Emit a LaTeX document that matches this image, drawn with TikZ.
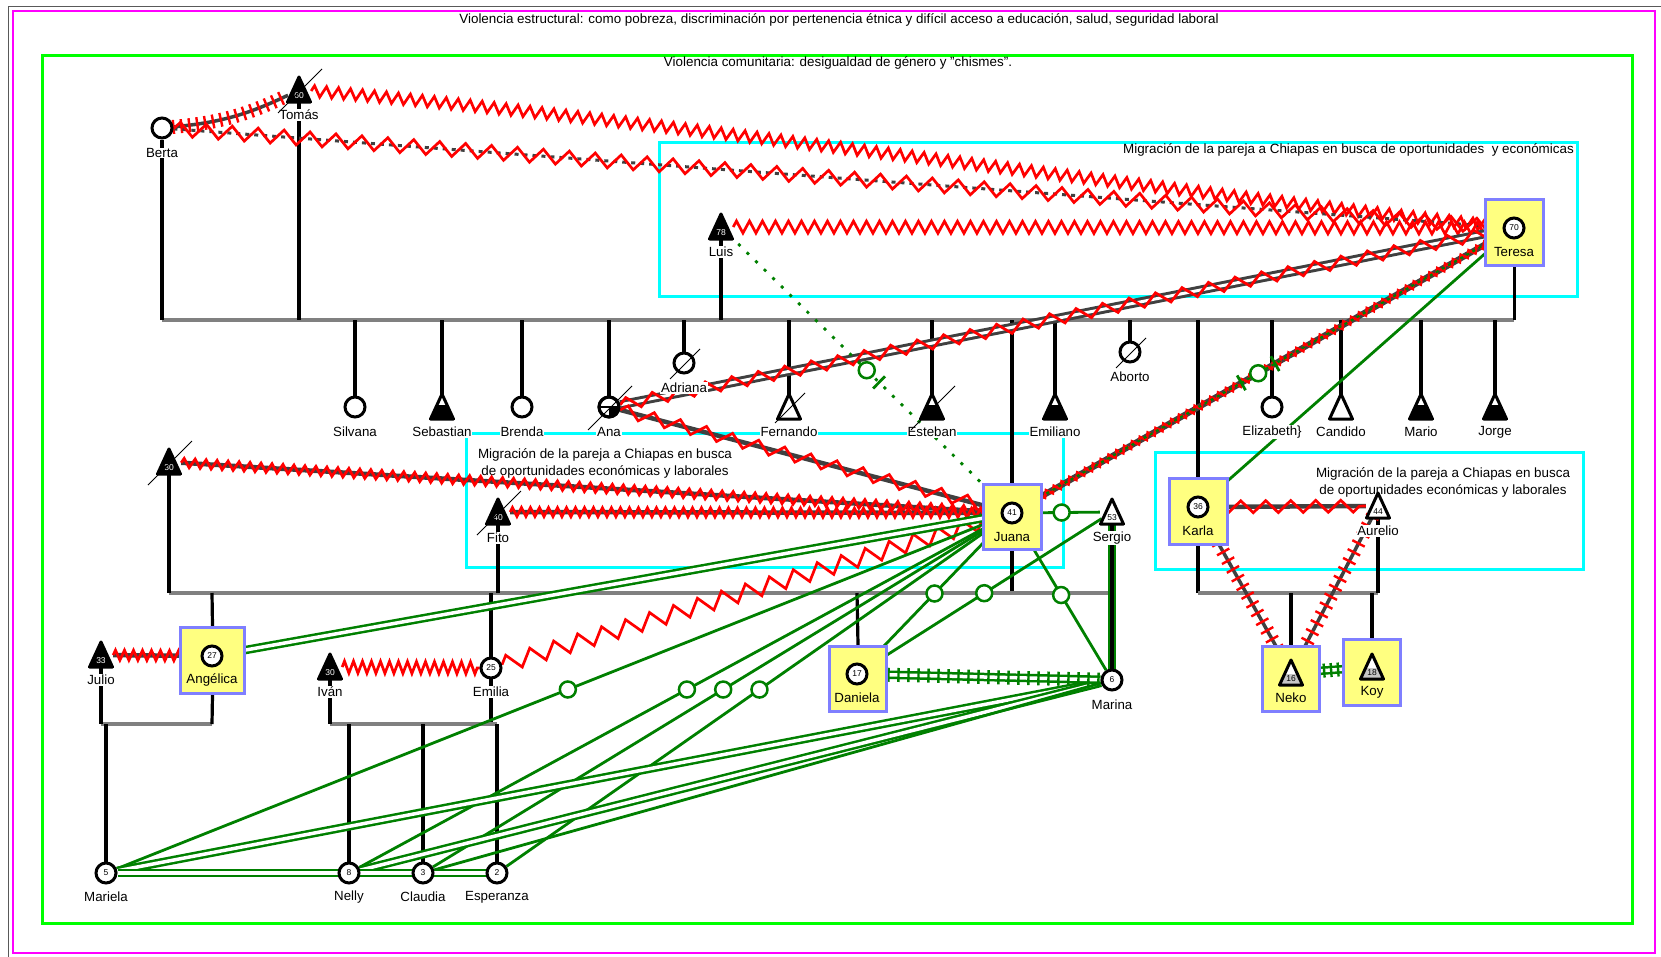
\documentclass[tikz,border=0pt]{standalone}
\usepackage{fontspec}
\setmainfont{Liberation Sans}
\usetikzlibrary{decorations.pathmorphing,decorations.pathreplacing,calc}
\pgfdeclarelayer{frames}
\pgfdeclarelayer{links}
\pgfsetlayers{frames,links,main}
\definecolor{rel}{HTML}{008000}
\definecolor{dgray}{HTML}{404040}
\definecolor{lgray}{HTML}{808080}
\definecolor{framemag}{HTML}{FF00FF}
\definecolor{framegreen}{HTML}{00FF00}
\definecolor{framecyan}{HTML}{00FFFF}
\definecolor{hlfill}{HTML}{FFFF80}
\definecolor{hlborder}{HTML}{7F7FFF}
\tikzset{
  txt/.style={font=\fontsize{13.4}{17}\selectfont, inner sep=1pt},
  lbl/.style={font=\fontsize{13.3}{14}\selectfont, fill=white, inner sep=0.8pt},
  lblin/.style={font=\fontsize{13.3}{14}\selectfont, inner sep=0.8pt},
  fem/.style={circle, draw=black, line width=3pt, fill=white, minimum size=20pt, inner sep=0pt, font=\fontsize{8.5}{9}\selectfont},
  anchorpt/.style={circle, minimum size=24pt, inner sep=0pt},
  numw/.style={font=\fontsize{8.5}{9}\selectfont, text=white, inner sep=0pt},
  numb/.style={font=\fontsize{8.5}{9}\selectfont, inner sep=0pt},
  hlbox/.style={draw=hlborder, fill=hlfill, line width=2.8pt, inner sep=0pt},
  kin/.style={black, line width=3.2pt},
  sib/.style={lgray, line width=3.2pt},
  zz/.style 2 args={red, line width=2.7pt, decorate, decoration={zigzag, segment length=#1, amplitude=#2}},
  hatchred/.style={red, line width=2.4pt, decorate, decoration={ticks, segment length=#1, amplitude=7pt}},
  hatchgreen/.style={rel, line width=2.4pt, decorate, decoration={ticks, segment length=#1, amplitude=7pt}},
  bondline/.style={dgray, line width=#1},
  grel/.style={rel, line width=2.8pt},
  dbl/.style={rel, line width=2.5pt, double=white, double distance=3.5pt},
  gmark/.style={circle, draw=rel, line width=2.5pt, fill=white, minimum size=16pt, inner sep=0pt},
  gbar/.style={sloped, fill=rel, minimum width=2.8pt, minimum height=17pt, inner sep=0pt},
  triw/.pic={\draw[line width=3pt, line join=round, fill=white] (0,-13)--(11.5,12)--(-11.5,12)--cycle;},
  trib/.pic={\draw[line width=3pt, line join=round, fill=black] (0,-13)--(11.5,12)--(-11.5,12)--cycle;},
  trih/.pic={\fill[white] (0,-13)--(11.5,12)--(-11.5,12)--cycle;
             \fill[black] (-11.5,12)--(11.5,12)--(5,-2)--(-5,-2)--cycle;
             \draw[line width=3pt, line join=round] (0,-13)--(11.5,12)--(-11.5,12)--cycle;},
  trig/.pic={\fill[white] (0,-13)--(11.5,12)--(-11.5,12)--cycle;
             \fill[gray!45] (-11.5,12)--(11.5,12)--(6.4,1)--(-6.4,1)--cycle;
             \draw[line width=3pt, line join=round] (0,-13)--(11.5,12)--(-11.5,12)--cycle;},
  dead/.pic={\draw[line width=1pt] (-21,23)--(23,-21);},
  deadsm/.pic={\draw[line width=1pt] (-14,16)--(16,-14);},
}
\begin{document}
\begin{tikzpicture}[x=1pt,y=-1pt]
\useasboundingbox (0,0) rectangle (1661,956);

% ---------- frames and context notes
\begin{pgfonlayer}{frames}
\draw[gray!70!black, line width=0.8pt] (8,990) -- (8,6) -- (1700,6);
\draw[framemag, line width=2.5pt] (13,11) rectangle (1655,953);
\draw[framegreen, line width=3pt] (42,55) rectangle (1632,923);
\draw[framecyan, line width=3pt] (659,142) rectangle (1577,296);
\draw[framecyan, line width=3pt] (466,433) rectangle (1063,567);
\draw[framecyan, line width=3pt] (1155,452) rectangle (1583,569);
\node[txt] (t-estructural) at (839,20) {Violencia estructural: como pobreza, discriminación por pertenencia étnica y difícil acceso a educación, salud, seguridad laboral};
\node[txt] (t-comunitaria) at (838,63) {Violencia comunitaria: desigualdad de género y "chismes".};
\node[txt, anchor=east] (t-mig1) at (1575,150) {Migración de la pareja a Chiapas en busca de oportunidades\ \ y económicas};
\node[txt, align=center] (t-mig2) at (605,463) {Migración de la pareja a Chiapas en busca\\de oportunidades económicas y laborales};
\node[txt, align=center] (t-mig3) at (1443,482) {Migración de la pareja a Chiapas en busca\\de oportunidades económicas y laborales};
\end{pgfonlayer}

% ---------- generation 1
\node[fem] (berta) at (162,128) {};
\node[lbl] (berta-l) at (162,153) {Berta};
\node[anchorpt] (tomas) at (299,90) {};
\pic at (tomas) {trib};
\node[numw] (tomas-n) at (299,96) {60};
\node[lbl] (tomas-l) at (299,115) {Tomás};
\pic at (tomas) {dead};
\node[anchorpt] (luis) at (721,227) {};
\pic at (luis) {trib};
\node[numw] (luis-n) at (721,233) {78};
\node[lbl] (luis-l) at (721,252) {Luis};
\node[hlbox, minimum width=58.5pt, minimum height=66.5pt] (teresa-box) at (1514.5,232.5) {};
\node[fem] (teresa) at (1514,228) {70};
\node[lblin] (teresa-l) at (1514,252) {Teresa};

% ---------- generation 2
\node[fem] (silvana) at (355,407) {};
\node[lbl] (silvana-l) at (355,432) {Silvana};
\node[anchorpt] (sebastian) at (442,407) {};
\pic at (sebastian) {trih};
\node[lbl] (sebastian-l) at (442,432) {Sebastian};
\node[fem] (brenda) at (522,407) {};
\node[lbl] (brenda-l) at (522,432) {Brenda};
\node[fem] (ana) at (609,407) {};
\fill (609,407) -- ++(10,0) arc (0:90:10) -- cycle;
\draw[line width=1.2pt] (599,407) -- (619,407);
\draw[line width=3pt] (ana) circle (10);
\node[lbl] (ana-l) at (609,432) {Ana};
\pic at (ana) {dead};
\node[fem] (adriana) at (684,363) {};
\node[lbl] (adriana-l) at (684,388) {Adriana};
\pic at (adriana) {deadsm};
\node[anchorpt] (fernando) at (789,407) {};
\pic at (fernando) {triw};
\node[lbl] (fernando-l) at (789,432) {Fernando};
\pic at (fernando) {deadsm};
\node[anchorpt] (esteban) at (932,407) {};
\pic at (esteban) {trih};
\node[lbl] (esteban-l) at (932,432) {Esteban};
\pic at (esteban) {dead};
\node[hlbox, minimum width=58.5pt, minimum height=65.5pt] (juana-box) at (1012.5,517) {};
\node[fem] (juana) at (1012,513) {41};
\node[lblin] (juana-l) at (1012,537) {Juana};
\node[anchorpt] (emiliano) at (1055,407) {};
\pic at (emiliano) {trih};
\node[lbl] (emiliano-l) at (1055,432) {Emiliano};
\node[fem] (aborto) at (1130,352) {};
\node[lbl] (aborto-l) at (1130,377) {Aborto};
\pic at (aborto) {deadsm};
\node[hlbox, minimum width=58.5pt, minimum height=66.5pt] (karla-box) at (1198.5,511.5) {};
\node[fem] (karla) at (1198,507) {36};
\node[lblin] (karla-l) at (1198,531) {Karla};
\node[fem] (elizabeth) at (1272,407) {};
\node[lbl] (elizabeth-l) at (1272,432) {Elizabeth\}};
\node[anchorpt] (candido) at (1341,407) {};
\pic at (candido) {triw};
\node[lbl] (candido-l) at (1341,432) {Candido};
\node[anchorpt] (mario) at (1421,407) {};
\pic at (mario) {trih};
\node[lbl] (mario-l) at (1421,432) {Mario};
\node[anchorpt] (jorge) at (1495,407) {};
\pic at (jorge) {trih};
\node[lbl] (jorge-l) at (1495,432) {Jorge};

% ---------- generation 3
\node[anchorpt] (thirty) at (169,462) {};
\pic at (thirty) {trib};
\node[numw] (thirty-n) at (169,468) {30};
\pic at (thirty) {dead};
\node[anchorpt] (fito) at (498,512) {};
\pic at (fito) {trib};
\node[numw] (fito-n) at (498,518) {40};
\node[lbl] (fito-l) at (498,538) {Fito};
\pic at (fito) {dead};
\node[anchorpt] (sergio) at (1112,512) {};
\pic at (sergio) {triw};
\node[numb] (sergio-n) at (1112,518) {53};
\node[lbl] (sergio-l) at (1112,538) {Sergio};
\node[anchorpt] (julio) at (101,655) {};
\pic at (julio) {trib};
\node[numw] (julio-n) at (101,661) {33};
\node[lbl] (julio-l) at (101,680) {Julio};
\node[hlbox, minimum width=64pt, minimum height=66.5pt] (angelica-box) at (212.5,660.5) {};
\node[fem] (angelica) at (212,656) {27};
\node[lblin] (angelica-l) at (212,680) {Angélica};
\node[anchorpt] (ivan) at (330,667) {};
\pic at (ivan) {trib};
\node[numw] (ivan-n) at (330,673) {30};
\node[lbl] (ivan-l) at (330,692) {Iván};
\node[fem] (emilia) at (491,668) {25};
\node[lbl] (emilia-l) at (491,692) {Emilia};
\node[hlbox, minimum width=57.5pt, minimum height=65.5pt] (daniela-box) at (858,679) {};
\node[fem] (daniela) at (857,674) {17};
\node[lblin] (daniela-l) at (857,698) {Daniela};
\node[fem] (marina) at (1112,680) {6};
\node[lbl] (marina-l) at (1112,705) {Marina};
\node[anchorpt] (aurelio) at (1378,506) {};
\pic at (aurelio) {triw};
\node[numb] (aurelio-n) at (1378,512) {44};
\node[lbl] (aurelio-l) at (1378,531) {Aurelio};
\node[hlbox, minimum width=57.5pt, minimum height=65.5pt] (neko-box) at (1291,679) {};
\node[anchorpt] (neko) at (1291,673) {};
\pic at (neko) {trig};
\node[numb] (neko-n) at (1291,679) {16};
\node[lblin] (neko-l) at (1291,698) {Neko};
\node[hlbox, minimum width=57.5pt, minimum height=66.5pt] (koy-box) at (1372,672.5) {};
\node[anchorpt] (koy) at (1372,667) {};
\pic at (koy) {trig};
\node[numb] (koy-n) at (1372,673) {18};
\node[lblin] (koy-l) at (1372,692) {Koy};

% ---------- generation 4
\node[fem] (mariela) at (106,873) {5};
\node[lbl] (mariela-l) at (106,897) {Mariela};
\node[fem] (nelly) at (349,873) {8};
\node[lbl] (nelly-l) at (349,897) {Nelly};
\node[fem] (claudia) at (423,873) {3};
\node[lbl] (claudia-l) at (423,897) {Claudia};
\node[fem] (esperanza) at (497,873) {2};
\node[lbl] (esperanza-l) at (497,897) {Esperanza};

% ---------- sibship lines
\coordinate (g1l) at (162,320);  \coordinate (g1r) at (1514,320);
\coordinate (g2l) at (169,593);  \coordinate (g2r) at (1112,593);
\coordinate (g2kl) at (1198,593); \coordinate (g2kr) at (1378,593);
\coordinate (g3al) at (101,724); \coordinate (g3ar) at (212,724);
\coordinate (g3bl) at (330,724); \coordinate (g3br) at (497,724);

\begin{pgfonlayer}{links}
% kinship
\draw[sib] (g1l) -- (g1r);
\foreach \p in {berta,tomas,luis,teresa-box,silvana,sebastian,brenda,ana,adriana,fernando,esteban,emiliano,aborto,elizabeth,candido,mario,jorge}
  \draw[kin] (\p) -- (\p |- g1l);
\draw[kin] (juana |- g1l) -- (juana |- g2l);
\draw[kin] (karla |- g1l) -- (karla |- g2kl);
\draw[sib] (g2l) -- (g2r);
\draw[kin] (thirty) -- (thirty |- g2l);
\draw[kin] (fito) -- (fito |- g2l);
\draw[kin] (angelica |- g2l) -- (angelica-box.north);
\draw[kin] (emilia |- g2l) -- (emilia |- g3bl);
\draw[kin] (daniela |- g2l) -- (daniela-box.north);
\draw[sib] (g2kl) -- (g2kr);
\draw[kin] (aurelio) -- (aurelio |- g2kr);
\draw[kin] (neko |- g2kl) -- (neko-box.north);
\draw[kin] (koy |- g2kl) -- (koy-box.north);
\draw[sib] (g3al) -- (g3ar);
\draw[kin] (julio) -- (julio |- g3al);
\draw[kin] (angelica-box.south) -- (angelica |- g3al);
\draw[kin] (mariela) -- (mariela |- g3al);
\draw[sib] (g3bl) -- (g3br);
\draw[kin] (ivan) -- (ivan |- g3bl);
\draw[kin] (nelly) -- (nelly |- g3bl);
\draw[kin] (claudia) -- (claudia |- g3bl);
\draw[kin] (esperanza) -- (esperanza |- g3bl);

% violent bonds
\draw[bondline=3.5pt] (berta) to[bend right=10] (tomas);
\draw[hatchred=8pt] (berta) to[bend right=10] (tomas);
\draw[zz={12pt}{5.5pt}] (tomas) .. controls (650,118) and (1150,190) .. (teresa);
\draw[dgray, line width=3pt, dash pattern=on 4pt off 5pt] (berta) -- (teresa);
\draw[zz={26pt}{7pt}] (berta) -- (teresa);
\draw[zz={13pt}{6pt}] (luis) -- (teresa);
\draw[dgray, line width=3pt, double=white, double distance=3pt] (ana) -- (teresa);
\draw[zz={27pt}{6pt}] (ana) -- (teresa);
\draw[bondline=4.5pt] (ana) -- (juana);
\draw[zz={27pt}{6pt}] (ana) -- (juana);
\draw[bondline=4.5pt] (thirty) -- (juana);
\draw[zz={11pt}{4.5pt}] (thirty) -- (juana);
\draw[bondline=4.5pt] (fito) -- (juana);
\draw[zz={9pt}{4.5pt}] (fito) -- (juana);
\draw[bondline=6pt] (juana) -- (teresa);
\draw[zz={9pt}{3pt}] (juana) -- (teresa);
\draw[rel, line width=2.2pt, dash pattern=on 3pt off 4pt] (juana) -- (teresa);
\draw[zz={25pt}{8pt}] (emilia) -- (juana);
\draw[zz={9pt}{6pt}] (ivan) -- (emilia);
\draw[bondline=4.5pt] (julio) -- (angelica);
\draw[zz={9pt}{5pt}] (julio) -- (angelica);
\draw[bondline=4.5pt] (karla) -- (aurelio);
\draw[zz={25pt}{6pt}] (karla) -- (aurelio);
\draw[bondline=3.5pt] (karla) -- (neko);
\draw[hatchred=10pt] (karla) -- (neko);
\draw[bondline=3.5pt] (aurelio) -- (neko);
\draw[hatchred=10pt] (aurelio) -- (neko);

% close and distant bonds
\draw[rel, line width=2.8pt, dash pattern=on 3pt off 9pt] (luis) -- (juana);
\draw[dbl] (angelica) -- (juana);
\draw[grel] (mariela) -- (juana);
\draw[grel] (nelly) -- (juana);
\draw[grel] (claudia) -- (juana);
\draw[grel] (esperanza) -- (juana);
\draw[dbl] (mariela) -- (marina);
\draw[dbl] (nelly) -- (marina);
\draw[grel] (claudia) -- (marina);
\draw[dbl] (mariela) -- (esperanza);
\draw[grel] (juana) -- (sergio);
\draw[grel] (juana) -- (daniela);
\draw[grel] (sergio) -- (daniela);
\draw[grel] (juana) -- (marina);
\draw[grel] (teresa) -- (karla);
\draw[rel, line width=7.5pt] (sergio) -- (marina);
\draw[black, line width=3.2pt] (sergio) -- (marina);
\draw[dbl] (daniela) -- (marina);
\draw[hatchgreen=10pt] (daniela) -- (marina);
\draw[dbl] (neko) -- (koy);
\draw[hatchgreen=7pt] (neko) -- (koy);
\end{pgfonlayer}

% ---------- markers on bonds
\path (mariela) -- (juana) node[gmark, pos=.51] (mk-mariela) {};
\path (nelly) -- (juana) node[gmark, pos=.51] (mk-nelly) {};
\path (claudia) -- (juana) node[gmark, pos=.51] (mk-claudia) {};
\path (esperanza) -- (juana) node[gmark, pos=.51] (mk-esperanza) {};
\path (juana) -- (sergio) node[gmark, pos=.5] (mk-js) {};
\path (juana) -- (daniela) node[gmark, pos=.5] (mk-jd) {};
\path (sergio) -- (daniela) node[gmark, pos=.5] (mk-sd) {};
\path (juana) -- (marina) node[gmark, pos=.49] (mk-jm) {};
\path (luis) -- (juana) node[gmark, pos=.5] (mk-lj) {} node[gbar, pos=.545] (mk-lj-bar) {};
\path (juana) -- (teresa) node[gbar, pos=.455] (mk-jt-bar1) {} node[gmark, pos=.49] (mk-jt) {} node[gbar, pos=.525] (mk-jt-bar2) {};
\end{tikzpicture}
\end{document}
